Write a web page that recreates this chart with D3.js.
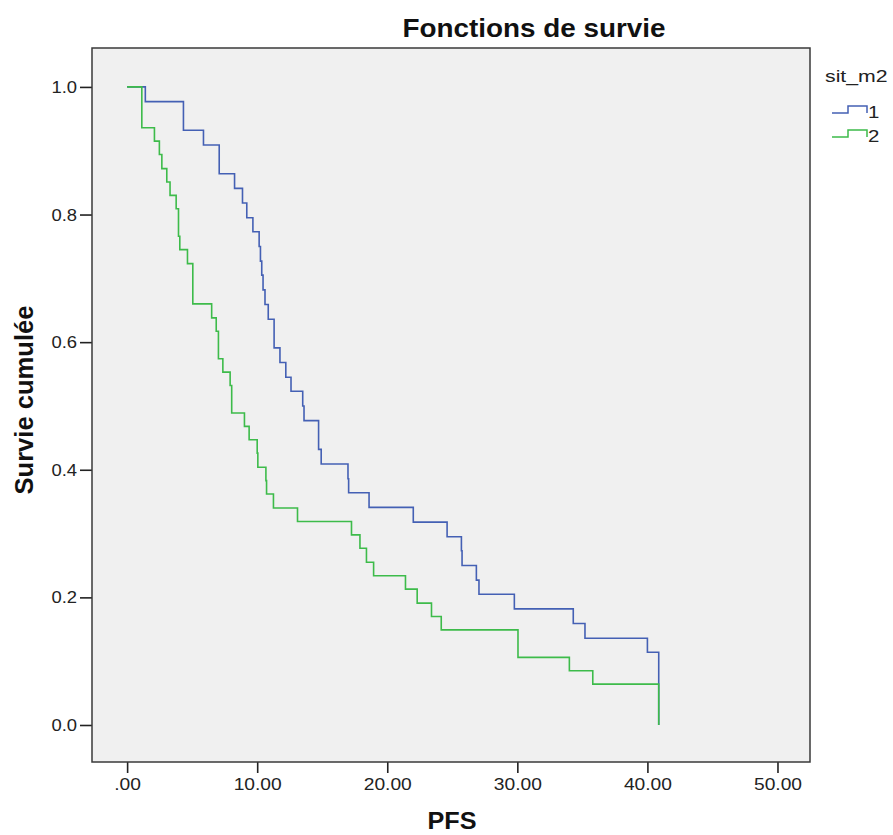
<!DOCTYPE html>
<html>
<head>
<meta charset="utf-8">
<script src="https://cdn.jsdelivr.net/npm/d3@7/dist/d3.min.js"></script>
<style>
  html, body { margin: 0; padding: 0; background: #ffffff; }
  svg { display: block; font-family: "Liberation Sans", Arial, sans-serif; }
</style>
</head>
<body>
<svg id="chart" width="893" height="835"></svg>
<script>
// ---- Data ----
const seriesNames = ["1", "2"];
// Group 1 (blue): times at which survival drops, and survival after the drop
const g1Times = [0, 1.4, 4.33, 5.87, 7.08, 8.26, 8.87, 9.2, 9.67, 10.15, 10.25, 10.35, 10.45, 10.6, 10.85,
  11.3, 11.75, 12.2, 12.6, 13.5, 13.6, 14.72, 14.92, 16.98, 17.03, 18.6, 22.0, 24.6, 25.7, 25.75,
  26.85, 27.05, 29.77, 34.3, 35.2, 40.0, 40.87];
const g1Surv = [1.0, 0.977, 0.932, 0.909, 0.864, 0.841, 0.818, 0.795, 0.773, 0.750, 0.727, 0.705, 0.682, 0.659, 0.636,
  0.591, 0.568, 0.545, 0.523, 0.500, 0.477, 0.432, 0.409, 0.386, 0.364, 0.341, 0.318, 0.295, 0.273, 0.250,
  0.227, 0.205, 0.182, 0.159, 0.136, 0.114, 0.0];
// Group 2 (green)
const g2Times = [0, 1.13, 2.1, 2.48, 2.67, 3.05, 3.3, 3.77, 3.95, 4.05, 4.64, 5.05, 6.5, 6.85, 7.02, 7.36,
  7.92, 8.04, 9.02, 9.38, 10.0, 10.05, 10.67, 10.72, 11.25, 13.1, 17.25, 17.9, 18.4, 18.95, 21.4, 22.3,
  23.4, 24.15, 30.05, 34.0, 35.8, 40.87];
const g2Surv = [1.0, 0.936, 0.915, 0.894, 0.872, 0.851, 0.830, 0.809, 0.766, 0.745, 0.723, 0.660, 0.638, 0.617, 0.574, 0.553,
  0.532, 0.489, 0.468, 0.447, 0.426, 0.404, 0.383, 0.362, 0.340, 0.319, 0.298, 0.277, 0.255, 0.234, 0.213, 0.191,
  0.170, 0.149, 0.106, 0.085, 0.064, 0.0];
const xTicks = [0, 10, 20, 30, 40, 50];
const yTicks = [0.0, 0.2, 0.4, 0.6, 0.8, 1.0];
const colors = ["#4460B4", "#3DBB4A"];

// ---- helpers ----
function stretch(sel, f) {
  sel.each(function () {
    const w = this.getComputedTextLength();
    d3.select(this).attr("textLength", w * f).attr("lengthAdjust", "spacingAndGlyphs");
  });
}

// ---- Layout ----
const svg = d3.select("#chart");
const L = 92, R = 810, T = 48, B = 762;

const x = d3.scaleLinear().domain([-2.7, 52.5]).range([L, R]);
const y = d3.scaleLinear().domain([-0.058, 1.061]).range([B, T]);

// plot background
svg.append("rect").attr("x", L).attr("y", T).attr("width", R - L).attr("height", B - T)
  .attr("fill", "#F0F0F0");

// axes
const xAxis = d3.axisBottom(x).tickValues(xTicks).tickSize(11).tickSizeOuter(0)
  .tickFormat(d => d === 0 ? ".00" : d.toFixed(2));
const gx = svg.append("g").attr("transform", `translate(0,${B})`).call(xAxis);
gx.select(".domain").remove();
gx.selectAll(".tick line").attr("stroke", "#222").attr("stroke-width", 1.6);
gx.selectAll(".tick text").attr("font-size", 16).attr("fill", "#222")
  .attr("y", 28).attr("dy", 0)
  .attr("font-family", "Liberation Sans, Arial, sans-serif");
stretch(gx.selectAll(".tick text"), 1.2);

const yAxis = d3.axisLeft(y).tickValues(yTicks).tickSize(12).tickSizeOuter(0)
  .tickFormat(d => d.toFixed(1));
const gy = svg.append("g").attr("transform", `translate(${L},0)`).call(yAxis);
gy.select(".domain").remove();
gy.selectAll(".tick line").attr("stroke", "#222").attr("stroke-width", 1.6);
gy.selectAll(".tick text").attr("font-size", 16).attr("fill", "#222")
  .attr("x", -15).attr("dy", "0.35em")
  .attr("font-family", "Liberation Sans, Arial, sans-serif");
stretch(gy.selectAll(".tick text"), 1.15);

// frame
svg.append("rect").attr("x", L).attr("y", T).attr("width", R - L).attr("height", B - T)
  .attr("fill", "none").attr("stroke", "#3a3a3a").attr("stroke-width", 1.5);

// step curves
const line = d3.line().x(d => x(d[0])).y(d => y(d[1])).curve(d3.curveStepAfter);
const groups = [
  g1Times.map((t, i) => [t, g1Surv[i]]),
  g2Times.map((t, i) => [t, g2Surv[i]])
];
groups.forEach((pts, i) => {
  svg.append("path").attr("d", line(pts)).attr("fill", "none")
    .attr("stroke", colors[i]).attr("stroke-width", 1.6);
});

// titles
svg.append("text").attr("x", 534).attr("y", 37).attr("text-anchor", "middle")
  .attr("font-size", 26).attr("font-weight", "bold").attr("fill", "#111")
  .attr("textLength", 263).attr("lengthAdjust", "spacingAndGlyphs")
  .text("Fonctions de survie");
svg.append("text").attr("transform", "translate(33,400) rotate(-90)").attr("text-anchor", "middle")
  .attr("font-size", 26).attr("font-weight", "bold").attr("fill", "#111")
  .attr("textLength", 189).attr("lengthAdjust", "spacingAndGlyphs")
  .text("Survie cumulée");
svg.append("text").attr("x", 452).attr("y", 829).attr("text-anchor", "middle")
  .attr("font-size", 23).attr("font-weight", "bold").attr("fill", "#111")
  .attr("textLength", 49).attr("lengthAdjust", "spacingAndGlyphs")
  .text("PFS");

// legend
const lt = svg.append("text").attr("x", 825).attr("y", 82).attr("font-size", 17).attr("fill", "#222").text("sit_m2");
stretch(lt, 1.25);
seriesNames.forEach((name, i) => {
  const yy = 113 + i * 24;
  svg.append("path")
    .attr("d", `M832,${yy}H848V${yy - 7}H867V${yy}`)
    .attr("fill", "none").attr("stroke", colors[i]).attr("stroke-width", 1.5);
  const t = svg.append("text").attr("x", 868).attr("y", yy + 5).attr("font-size", 17).attr("fill", "#222").text(name);
  stretch(t, 1.2);
});
</script>
</body>
</html>
